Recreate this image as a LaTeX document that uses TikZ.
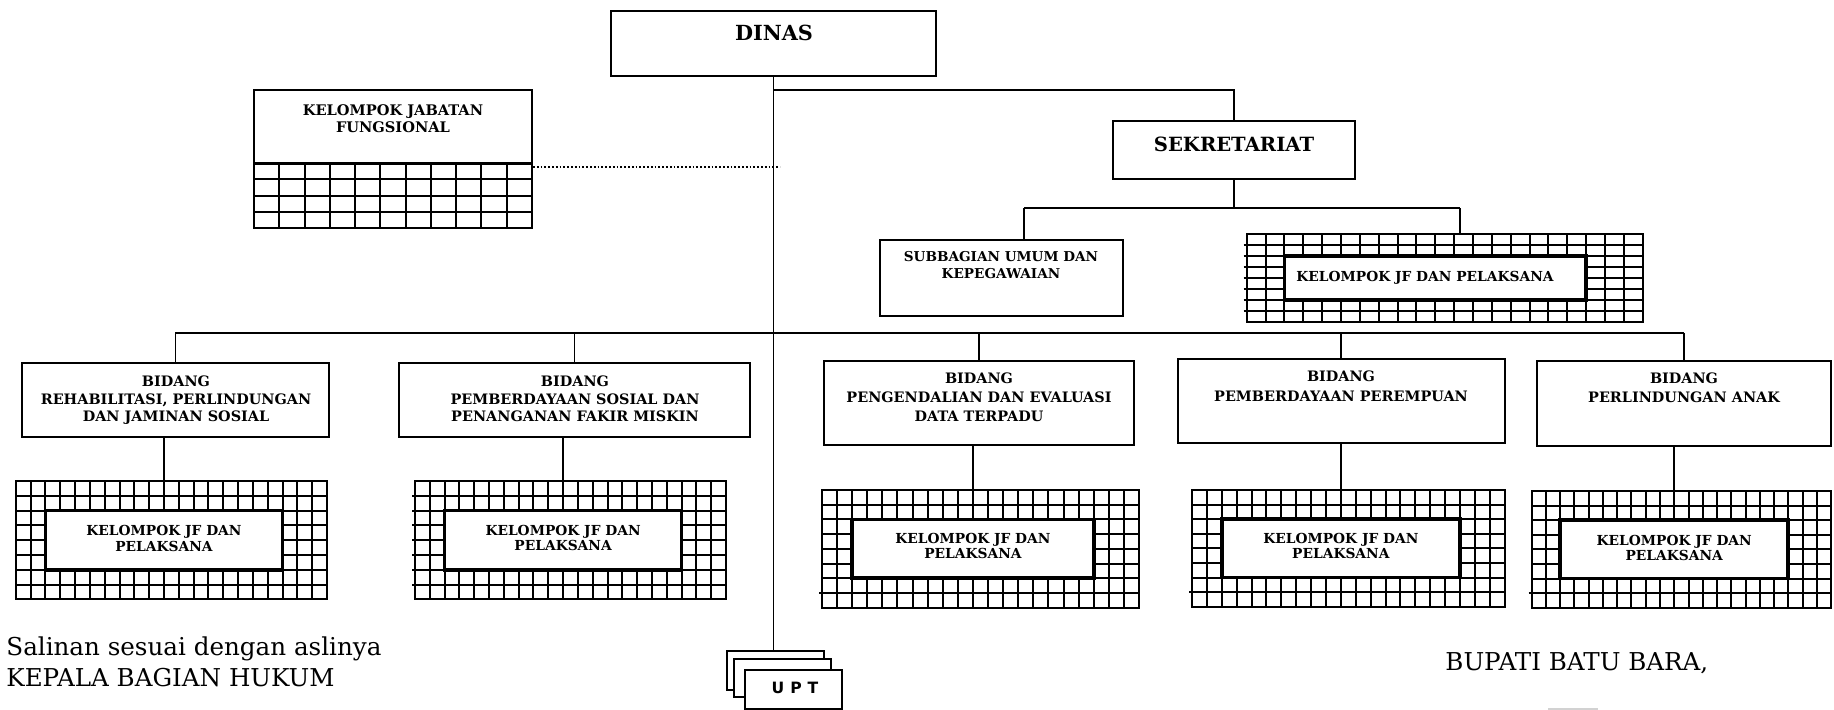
\documentclass[tikz,border=0pt]{standalone}
\usepackage{fontspec}
\setmainfont{DejaVu Serif}
\setsansfont{DejaVu Sans}
\usetikzlibrary{fit}
\tikzset{
  boxst/.style={draw, line width=1pt, inner sep=0pt},
  conn/.style={line width=0.9pt},
  gridline/.style={line width=1pt},
  thickbox/.style={draw, line width=1.8pt, fill=white, inner sep=0pt},
  lbl/.style={inner sep=0pt, align=center},
  plain/.style={inner sep=0pt, anchor=base west, font=\fontsize{12.3}{14}\selectfont},
}
\newcommand{\jfgrid}[7]{%
  \node[fit={(#2,#3) (#4,#5)}, draw, gridline, inner sep=0pt] (#1) {};
  \foreach \i in {1,...,20}{\draw[gridline] ({#2+(#4-#2)*\i/21},#3) -- ({#2+(#4-#2)*\i/21},#5);}
  \foreach \j in {1,...,7}{\draw[gridline] ({#2-#6},{#3+(#5-#3)*\j/8}) -- (#4,{#3+(#5-#3)*\j/8});}
  \draw[gridline] ({#2-#7},{#3+(#5-#3)*7/8}) -- (#2,{#3+(#5-#3)*7/8});
  \node[fit={({#2+(#4-#2)*2/21},{#3+(#5-#3)*2/8}) ({#2+(#4-#2)*18/21},{#3+(#5-#3)*6/8})}, thickbox] (#1-in) {};
}
\begin{document}
\begin{tikzpicture}[x=0.5pt, y=-0.5pt]
\useasboundingbox (0,0) rectangle (1834,710);

% ---- top level
\node[fit={(611,11) (936,75.7)}, boxst] (DINAS) {};
\node[inner sep=0pt, font=\bfseries\fontsize{10.4}{12}\selectfont] (DINASt) at (774,33) {DINAS};

\node[fit={(1113,120.7) (1355,179)}, boxst] (SEK) {};
\node[inner sep=0pt, font=\bfseries\fontsize{9.8}{12}\selectfont] (SEKt) at (1234,144) {SEKRETARIAT};

\node[fit={(880,240) (1123,316)}, boxst] (SUB) {};
\node[lbl, anchor=north, font=\bfseries\fontsize{6.8}{8.5}\selectfont] (SUBt) at (1001,251) {SUBBAGIAN UMUM DAN\\KEPEGAWAIAN};

\jfgrid{SG}{1246.7}{234}{1642.7}{321.7}{3}{0}
\node[inner sep=0pt, anchor=north west, font=\bfseries\fontsize{6.9}{8}\selectfont] (SGt) at (1296,271) {KELOMPOK JF DAN PELAKSANA};

% ---- kelompok jabatan fungsional
\node[fit={(254,90) (532,228)}, boxst] (KJF) {};
\foreach \i in {1,...,10}{\draw[gridline] ({254+278*\i/11},163.3) -- ({254+278*\i/11},228);}
\foreach \j in {1,2,3}{\draw[gridline] (254,{163.3+64.7*\j/4}) -- (532,{163.3+64.7*\j/4});}
\draw[line width=1.6pt] (KJF.west |- 0,163.3) -- (KJF.east |- 0,163.3);
\node[lbl, anchor=north, font=\bfseries\fontsize{7.3}{8.5}\selectfont] (KJFt) at (393,104.2) {KELOMPOK JABATAN\\FUNGSIONAL};
\coordinate (dotend) at (780,166.7);
\draw[densely dotted, line width=0.9pt] (KJF.east |- dotend) -- (dotend);

% ---- bidang boxes
\node[fit={(22.3,363.3) (328.5,436.7)}, boxst] (B1) {};
\node[lbl, anchor=north, font=\bfseries\fontsize{7.2}{8.8}\selectfont] (B1t) at (176,375.5) {BIDANG\\REHABILITASI, PERLINDUNGAN\\DAN JAMINAN SOSIAL};
\node[fit={(399,363) (749.8,436.7)}, boxst] (B2) {};
\node[lbl, anchor=north, font=\bfseries\fontsize{7.2}{8.8}\selectfont] (B2t) at (575,375.5) {BIDANG\\PEMBERDAYAAN SOSIAL DAN\\PENANGANAN FAKIR MISKIN};
\node[fit={(824.3,360.7) (1134,445)}, boxst] (B3) {};
\node[lbl, anchor=north, font=\bfseries\fontsize{7.2}{9.3}\selectfont] (B3t) at (979,372.8) {BIDANG\\PENGENDALIAN DAN EVALUASI\\DATA TERPADU};
\node[fit={(1178,359) (1504.6,443.3)}, boxst] (B4) {};
\node[lbl, anchor=north, font=\bfseries\fontsize{7.2}{10}\selectfont] (B4t) at (1341,370.8) {BIDANG\\PEMBERDAYAAN PEREMPUAN};
\node[fit={(1537.4,360.7) (1830.5,445.7)}, boxst] (B5) {};
\node[lbl, anchor=north, font=\bfseries\fontsize{7.2}{9.5}\selectfont] (B5t) at (1684,372.8) {BIDANG\\PERLINDUNGAN ANAK};

% ---- grids under bidang
\jfgrid{G1}{15.8}{481}{327}{599.3}{0}{0}
\jfgrid{G2}{415}{481}{726}{599.3}{3}{0}
\jfgrid{G3}{822}{490}{1139}{607.7}{0}{3}
\jfgrid{G4}{1192}{490}{1504.6}{606.7}{0}{3}
\jfgrid{G5}{1531.7}{491}{1831}{607.7}{0}{3}
\node[lbl, anchor=north, font=\bfseries\fontsize{6.9}{7.8}\selectfont] (G1t) at (G1-in.north |- 0,525) {KELOMPOK JF DAN\\PELAKSANA};
\node[lbl, anchor=north, font=\bfseries\fontsize{6.9}{7.6}\selectfont] (G2t) at (G2-in.north |- 0,525) {KELOMPOK JF DAN\\PELAKSANA};
\node[lbl, anchor=north, font=\bfseries\fontsize{6.9}{7.2}\selectfont] (G3t) at (G3-in.north |- 0,533.3) {KELOMPOK JF DAN\\PELAKSANA};
\node[lbl, anchor=north, font=\bfseries\fontsize{6.9}{7.2}\selectfont] (G4t) at (G4-in.north |- 0,533.3) {KELOMPOK JF DAN\\PELAKSANA};
\node[lbl, anchor=north, font=\bfseries\fontsize{6.9}{7.2}\selectfont] (G5t) at (G5-in.north |- 0,535) {KELOMPOK JF DAN\\PELAKSANA};

% ---- UPT stack
\node[fit={(727.3,650.7) (824,690)}, boxst, fill=white] (UPTa) {};
\node[fit={(734,659.3) (830.7,696.7)}, boxst, fill=white] (UPTb) {};
\node[fit={(745.3,670) (842.3,708.6)}, boxst, fill=white] (UPTc) {};
\node[inner sep=0pt, font=\sffamily\bfseries\fontsize{7.8}{9}\selectfont] (UPTt) at (795,688) {U\hspace{3pt}P\hspace{3pt}T};

% ---- connectors
\coordinate (busA) at (774,90);
\draw[conn] (DINAS.south) -- (DINAS.south |- UPTa.north);
\draw[conn] (busA) -| (SEK.north);
\coordinate (busSL) at (1024,208.3);
\coordinate (busSR) at (1460,208.3);
\draw[conn] (SEK.south) -- (SEK.south |- busSL);
\draw[conn] (busSL) -- (busSR);
\draw[conn] (busSL) -- (busSL |- SUB.north);
\draw[conn] (busSR) -- (busSR |- SG.north);

\coordinate (busM) at (774,333);
\draw[conn] (B1.north |- busM) -- (B5.north |- busM);
\foreach \b in {B1,B2,B3,B4,B5}{\draw[conn] (\b.north |- busM) -- (\b.north);}
\foreach \b/\g in {B1/G1,B2/G2,B3/G3,B4/G4,B5/G5}{\draw[conn] (\g-in.north |- \b.south) -- (\g-in.north |- \g.north);}

% ---- signature texts
\node[plain] (sal1) at (6,655) {Salinan sesuai dengan aslinya};
\node[plain] (sal2) at (6,686.7) {KEPALA BAGIAN HUKUM};
\node[plain] (bup) at (1445,670) {BUPATI BATU BARA,};
\fill[gray!35] (1548,708.4) rectangle (1598,710);
\end{tikzpicture}
\end{document}
